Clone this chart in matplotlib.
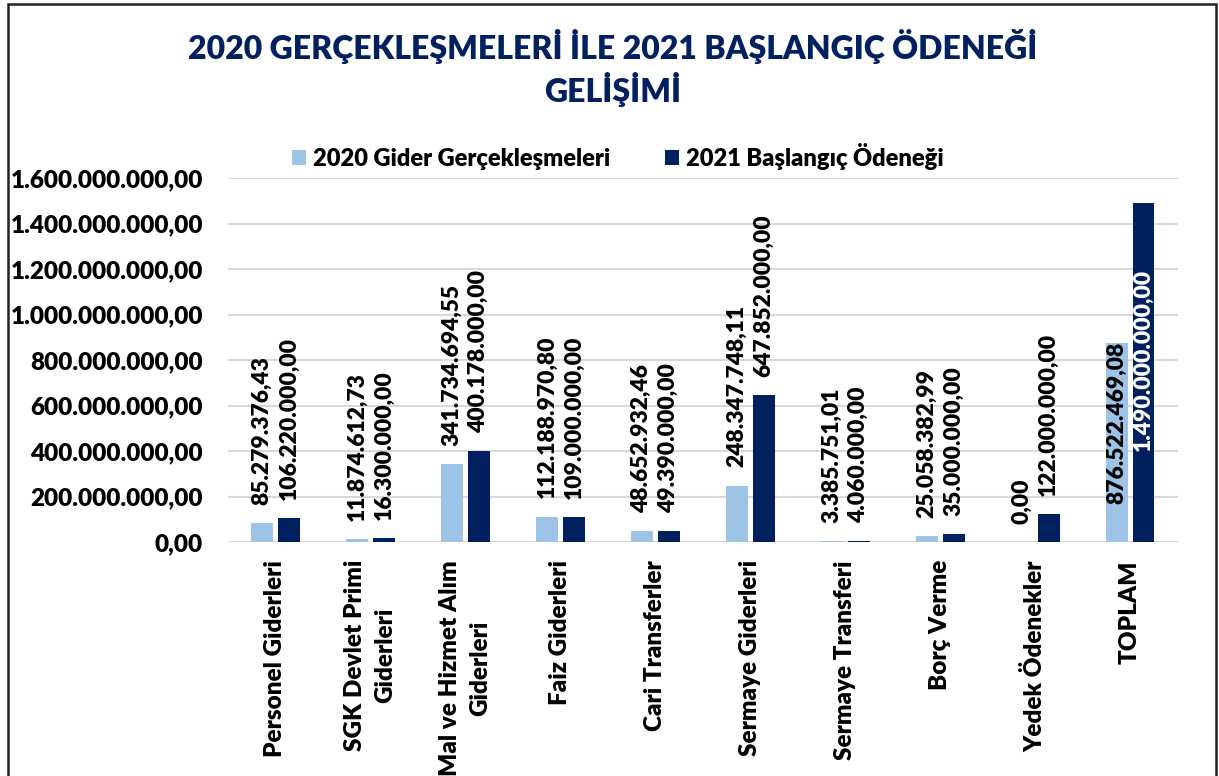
import numpy as np
import matplotlib
matplotlib.use("Agg")
import matplotlib.pyplot as plt
from matplotlib.patches import Rectangle

plt.rcParams['font.family'] = ['Lato', 'DejaVu Sans']
plt.rcParams['font.weight'] = 'heavy'
W = 'heavy'

categories = [
    "Personel Giderleri",
    "SGK Devlet Primi\nGiderleri",
    "Mal ve Hizmet Alım\nGiderleri",
    "Faiz Giderleri",
    "Cari Transferler",
    "Sermaye Giderleri",
    "Sermaye Transferi",
    "Borç Verme",
    "Yedek Ödenekler",
    "TOPLAM",
]
gider_2020 = [85279376.43, 11874612.73, 341734694.55, 112188970.80, 48652932.46,
              248347748.11, 3385751.01, 25058382.99, 0.00, 876522469.08]
odenek_2021 = [106220000.00, 16300000.00, 400178000.00, 109000000.00, 49390000.00,
               647852000.00, 4060000.00, 35000000.00, 122000000.00, 1490000000.00]
yticks = [0, 200e6, 400e6, 600e6, 800e6, 1000e6, 1200e6, 1400e6, 1600e6]

light = "#9DC3E6"
navy = "#002060"


#turkish number format: 1.234.567,89
def tr_fmt(v):
    s = f"{v:,.2f}"
    return s.replace(",", "#").replace(".", ",").replace("#", ".")


fig = plt.figure(figsize=(12.19, 7.76), dpi=100)
ax = fig.add_axes([0.187, 0.3015, 0.779, 0.469])

x = np.arange(len(categories))
w = 0.23
off = 0.142
b1 = ax.bar(x - off, gider_2020, w, color=light, label="2020 Gider Gerçekleşmeleri", zorder=3)
b2 = ax.bar(x + off, odenek_2021, w, color=navy, label="2021 Başlangıç Ödeneği", zorder=3)

ax.set_xlim(-0.5, len(categories) - 0.5)
ax.set_ylim(0, 1600e6)
ax.set_yticks(yticks)
ax.set_yticklabels([tr_fmt(v) for v in yticks], fontsize=17.5, fontweight=W)
ax.set_xticks(x)
ax.set_xticklabels(categories, rotation=90, fontsize=17.5, fontweight=W,
                   ha='center', va='top', multialignment='center', linespacing=1.45)
ax.tick_params(axis='y', length=0, pad=18)
ax.tick_params(axis='x', length=0, pad=13)
ax.grid(axis='y', color='#D9D9D9', linewidth=1.5, zorder=0)
for s in ax.spines.values():
    s.set_visible(False)

# value labels, last category handled separately (inside the bars)
last = len(categories) - 1
for i in range(last):
    for xs, vals in ((x - off, gider_2020), (x + off, odenek_2021)):
        v = vals[i]
        ax.annotate(tr_fmt(v), (xs[i], v), xytext=(0, 13), textcoords='offset points',
                    rotation=90, ha='center', va='bottom', fontsize=16.5,
                    fontweight=W, color='black', zorder=4)
ax.annotate(tr_fmt(gider_2020[last]), (x[last] - off, gider_2020[last]), xytext=(0, 1),
            textcoords='offset points', rotation=90, ha='center', va='top',
            fontsize=16.5, fontweight=W, color='black', zorder=4)
ax.annotate(tr_fmt(odenek_2021[last]), (x[last] + off, odenek_2021[last]), xytext=(0, -47),
            textcoords='offset points', rotation=90, ha='center', va='top',
            fontsize=16.5, fontweight=W, color='white', zorder=4)

fig.text(0.503, 0.962, "2020 GERÇEKLEŞMELERİ İLE 2021 BAŞLANGIÇ ÖDENEĞİ\nGELİŞİMİ",
         ha='center', va='top', fontsize=23, fontweight=W, color=navy, linespacing=1.25)

fig.legend(handles=[b1, b2], loc='center', bbox_to_anchor=(0.507, 0.798), ncol=2,
           frameon=False, fontsize=17, handlelength=0.6, handleheight=0.6,
           handletextpad=0.3, columnspacing=2.3)

fig.patches.append(Rectangle((8 / 1219, -0.02), 1208 / 1219, 1.02 - 4 / 776,
                             transform=fig.transFigure, fill=False,
                             edgecolor='#222222', linewidth=1.8))

fig.savefig("out.png", dpi=100)
